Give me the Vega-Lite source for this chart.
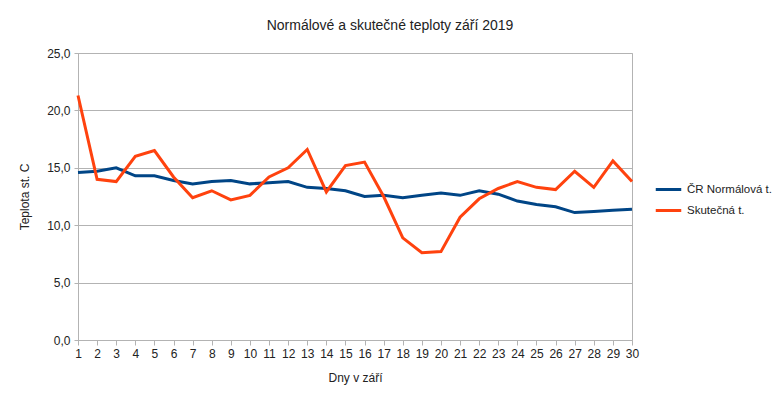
{
  "$schema": "https://vega.github.io/schema/vega-lite/v6.json",
  "width": 554,
  "height": 287,
  "autosize": {"type": "none"},
  "padding": {"left": 78, "top": 53, "right": 148, "bottom": 60},
  "background": "white",
  "config": {
    "font": "Liberation Sans",
    "view": {"stroke": "#b3b3b3", "strokeWidth": 1}
  },
  "title": {
    "text": "Normálové a skutečné teploty září 2019",
    "fontSize": 14,
    "fontWeight": "normal",
    "color": "#222222",
    "anchor": "middle",
    "dx": 35,
    "offset": 14
  },
  "data": {
    "values": [
      {"den": 1, "rada": "ČR Normálová t.", "teplota": 14.6},
      {"den": 2, "rada": "ČR Normálová t.", "teplota": 14.7},
      {"den": 3, "rada": "ČR Normálová t.", "teplota": 15.0},
      {"den": 4, "rada": "ČR Normálová t.", "teplota": 14.3},
      {"den": 5, "rada": "ČR Normálová t.", "teplota": 14.3},
      {"den": 6, "rada": "ČR Normálová t.", "teplota": 13.9},
      {"den": 7, "rada": "ČR Normálová t.", "teplota": 13.6},
      {"den": 8, "rada": "ČR Normálová t.", "teplota": 13.8},
      {"den": 9, "rada": "ČR Normálová t.", "teplota": 13.9},
      {"den": 10, "rada": "ČR Normálová t.", "teplota": 13.6},
      {"den": 11, "rada": "ČR Normálová t.", "teplota": 13.7},
      {"den": 12, "rada": "ČR Normálová t.", "teplota": 13.8},
      {"den": 13, "rada": "ČR Normálová t.", "teplota": 13.3},
      {"den": 14, "rada": "ČR Normálová t.", "teplota": 13.2},
      {"den": 15, "rada": "ČR Normálová t.", "teplota": 13.0},
      {"den": 16, "rada": "ČR Normálová t.", "teplota": 12.5},
      {"den": 17, "rada": "ČR Normálová t.", "teplota": 12.6},
      {"den": 18, "rada": "ČR Normálová t.", "teplota": 12.4},
      {"den": 19, "rada": "ČR Normálová t.", "teplota": 12.6},
      {"den": 20, "rada": "ČR Normálová t.", "teplota": 12.8},
      {"den": 21, "rada": "ČR Normálová t.", "teplota": 12.6},
      {"den": 22, "rada": "ČR Normálová t.", "teplota": 13.0},
      {"den": 23, "rada": "ČR Normálová t.", "teplota": 12.7},
      {"den": 24, "rada": "ČR Normálová t.", "teplota": 12.1},
      {"den": 25, "rada": "ČR Normálová t.", "teplota": 11.8},
      {"den": 26, "rada": "ČR Normálová t.", "teplota": 11.6},
      {"den": 27, "rada": "ČR Normálová t.", "teplota": 11.1},
      {"den": 28, "rada": "ČR Normálová t.", "teplota": 11.2},
      {"den": 29, "rada": "ČR Normálová t.", "teplota": 11.3},
      {"den": 30, "rada": "ČR Normálová t.", "teplota": 11.4},
      {"den": 1, "rada": "Skutečná t.", "teplota": 21.3},
      {"den": 2, "rada": "Skutečná t.", "teplota": 14.0},
      {"den": 3, "rada": "Skutečná t.", "teplota": 13.8},
      {"den": 4, "rada": "Skutečná t.", "teplota": 16.0},
      {"den": 5, "rada": "Skutečná t.", "teplota": 16.5},
      {"den": 6, "rada": "Skutečná t.", "teplota": 14.2},
      {"den": 7, "rada": "Skutečná t.", "teplota": 12.4},
      {"den": 8, "rada": "Skutečná t.", "teplota": 13.0},
      {"den": 9, "rada": "Skutečná t.", "teplota": 12.2},
      {"den": 10, "rada": "Skutečná t.", "teplota": 12.6},
      {"den": 11, "rada": "Skutečná t.", "teplota": 14.2},
      {"den": 12, "rada": "Skutečná t.", "teplota": 15.0},
      {"den": 13, "rada": "Skutečná t.", "teplota": 16.6},
      {"den": 14, "rada": "Skutečná t.", "teplota": 12.9},
      {"den": 15, "rada": "Skutečná t.", "teplota": 15.2},
      {"den": 16, "rada": "Skutečná t.", "teplota": 15.5},
      {"den": 17, "rada": "Skutečná t.", "teplota": 12.5},
      {"den": 18, "rada": "Skutečná t.", "teplota": 8.9},
      {"den": 19, "rada": "Skutečná t.", "teplota": 7.6},
      {"den": 20, "rada": "Skutečná t.", "teplota": 7.7},
      {"den": 21, "rada": "Skutečná t.", "teplota": 10.7},
      {"den": 22, "rada": "Skutečná t.", "teplota": 12.3},
      {"den": 23, "rada": "Skutečná t.", "teplota": 13.2},
      {"den": 24, "rada": "Skutečná t.", "teplota": 13.8},
      {"den": 25, "rada": "Skutečná t.", "teplota": 13.3},
      {"den": 26, "rada": "Skutečná t.", "teplota": 13.1},
      {"den": 27, "rada": "Skutečná t.", "teplota": 14.7},
      {"den": 28, "rada": "Skutečná t.", "teplota": 13.3},
      {"den": 29, "rada": "Skutečná t.", "teplota": 15.6},
      {"den": 30, "rada": "Skutečná t.", "teplota": 13.8}
    ]
  },
  "mark": {"type": "line", "strokeWidth": 3, "strokeJoin": "miter"},
  "encoding": {
    "x": {
      "field": "den",
      "type": "quantitative",
      "scale": {"domain": [1, 30], "nice": false, "zero": false},
      "axis": {
        "title": "Dny v září",
        "values": [1,2,3,4,5,6,7,8,9,10,11,12,13,14,15,16,17,18,19,20,21,22,23,24,25,26,27,28,29,30],
        "format": "d",
        "grid": false,
        "domainColor": "#b3b3b3",
        "tickColor": "#b3b3b3",
        "tickSize": 5,
        "labelFontSize": 12,
        "labelColor": "#222222",
        "labelPadding": 3,
        "labelFlush": false,
        "labelOverlap": false,
        "titleFontSize": 12,
        "titleFontWeight": "normal",
        "titleColor": "#222222",
        "titlePadding": 13
      }
    },
    "y": {
      "field": "teplota",
      "type": "quantitative",
      "scale": {"domain": [0, 25], "nice": false},
      "axis": {
        "title": "Teplota st. C",
        "values": [0, 5, 10, 15, 20, 25],
        "labelExpr": "replace(format(datum.value, '.1f'), '.', ',')",
        "gridColor": "#b3b3b3",
        "domainColor": "#b3b3b3",
        "tickColor": "#b3b3b3",
        "tickSize": 4,
        "labelFontSize": 12,
        "labelColor": "#222222",
        "labelPadding": 4,
        "titleFontSize": 12,
        "titleFontWeight": "normal",
        "titleColor": "#222222",
        "titlePadding": 15
      }
    },
    "color": {
      "field": "rada",
      "type": "nominal",
      "scale": {"domain": ["ČR Normálová t.", "Skutečná t."], "range": ["#004586", "#ff420e"]},
      "legend": {
        "title": null,
        "orient": "none",
        "legendX": 576,
        "legendY": 122,
        "symbolType": "stroke",
        "symbolStrokeWidth": 3,
        "symbolSize": 650,
        "labelFontSize": 11.5,
        "labelColor": "#222222",
        "labelOffset": 4,
        "rowPadding": 0
      }
    }
  }
}
